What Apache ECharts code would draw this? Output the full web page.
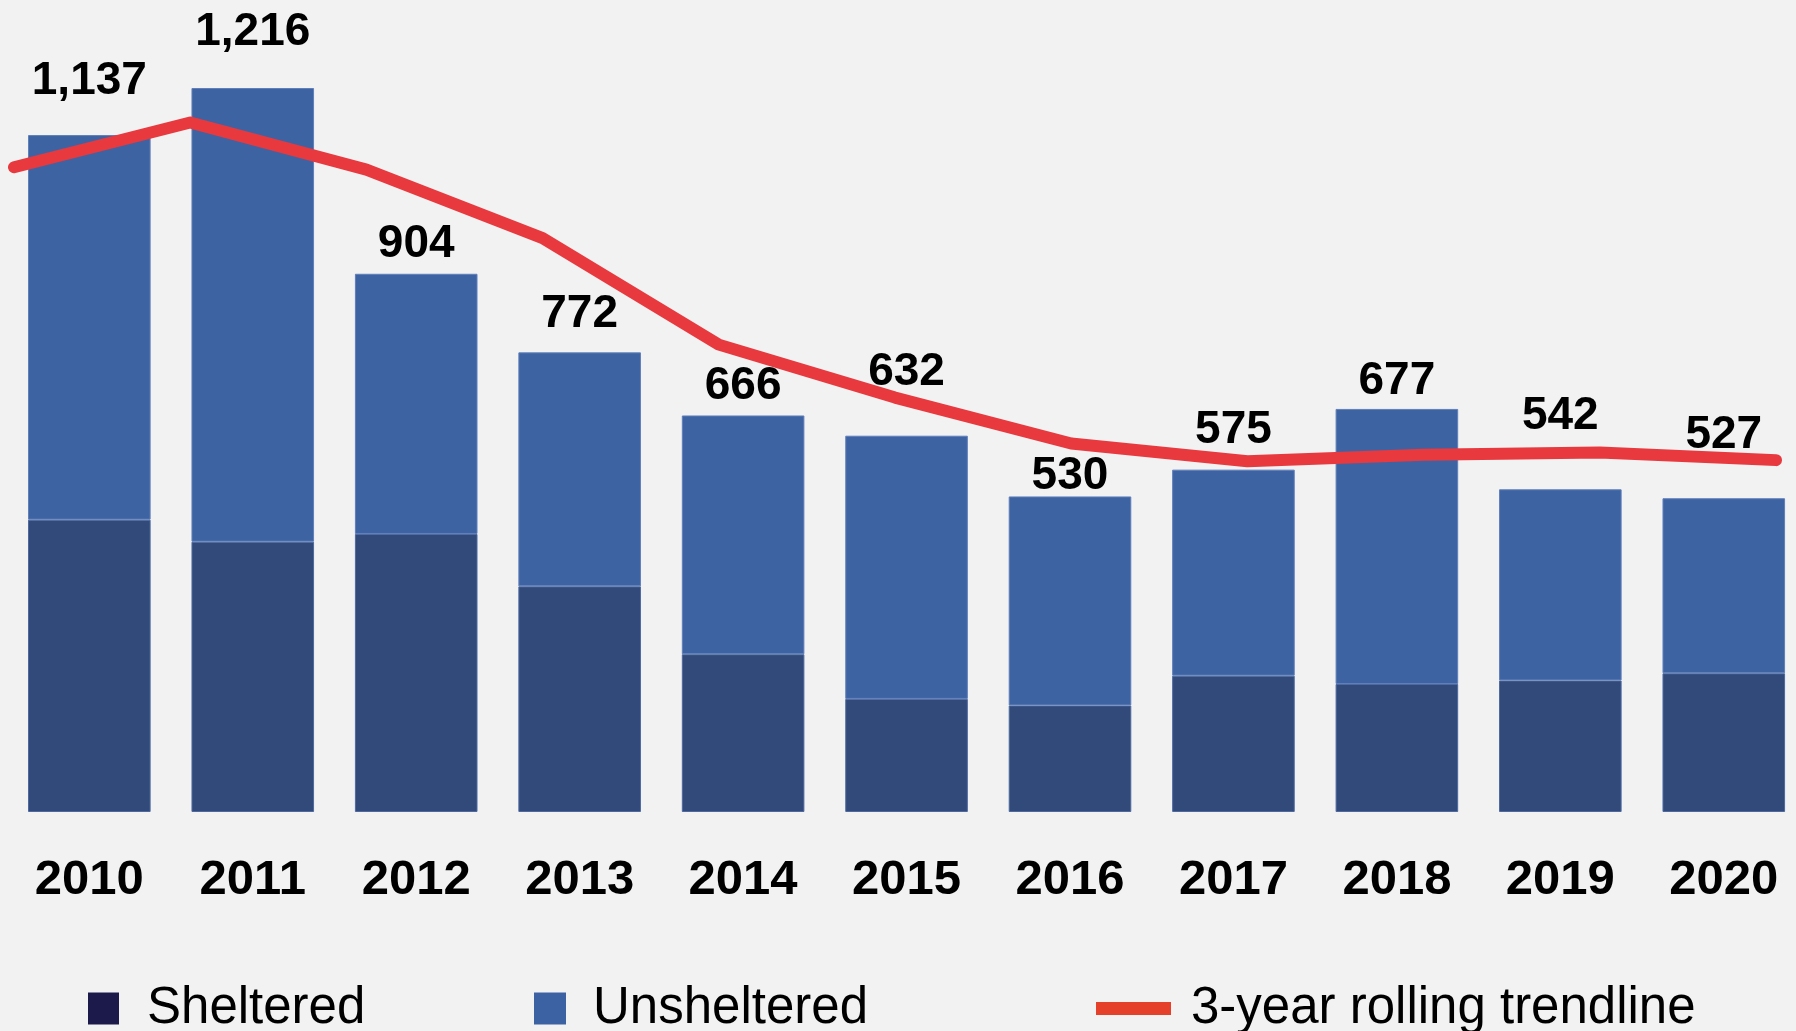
<!DOCTYPE html>
<html>
<head>
<meta charset="utf-8">
<title>Homeless count 2010-2020</title>
<script src="https://cdn.jsdelivr.net/npm/echarts@6.0.0/dist/echarts.min.js"></script>
<style>
  html, body { margin: 0; padding: 0; background: #f2f2f2; }
  #main { width: 1796px; height: 1031px; }
</style>
</head>
<body>
<div id="main"></div>
<script>
// values
var years = ['2010', '2011', '2012', '2013', '2014', '2015', '2016', '2017', '2018', '2019', '2020'];
var totals = [1137, 1216, 904, 772, 666, 632, 530, 575, 677, 542, 527];
var sheltered = [491, 454, 467, 379, 265, 190, 179, 229, 215, 221, 233];
var unsheltered = [646, 762, 437, 393, 401, 442, 351, 346, 462, 321, 294];
var trend = [1083, 1158, 1079, 964, 785, 696, 619, 589, 600, 604, 591];

// how far each total label sits above its bar (px)
var labelLift = [32, 34, 7, 16, 7, 41, -2, 17, 6, 51, 41];

var dom = document.getElementById('main');
var myChart = echarts.init(dom);

var topData = unsheltered.map(function (v, i) {
    return { value: v, label: { offset: [0, -labelLift[i]] } };
});

var legendText = {
    fontFamily: 'Liberation Sans',
    fontSize: 51,
    lineHeight: 50,
    color: '#000'
};

var option = {
    backgroundColor: '#f2f2f2',
    animation: false,
    grid: [
        { left: 7.6, right: -9.5, top: 38, bottom: 219, outerBoundsMode: 'none' },
        { left: 14, right: 20, top: 38, bottom: 219, outerBoundsMode: 'none' }
    ],
    xAxis: [{
        type: 'category',
        gridIndex: 0,
        data: years,
        axisLine: { show: false },
        axisTick: { show: false },
        axisLabel: {
            margin: 44,
            fontFamily: 'Liberation Sans',
            fontWeight: 'bold',
            fontSize: 49,
            lineHeight: 48,
            color: '#000'
        }
    }, {
        type: 'category',
        gridIndex: 1,
        data: years,
        boundaryGap: false,
        show: false
    }],
    yAxis: [
        { type: 'value', gridIndex: 0, min: 0, max: 1300, show: false },
        { type: 'value', gridIndex: 1, min: 0, max: 1300, show: false }
    ],
    legend: [{
        data: [{ name: 'Sheltered', itemStyle: { color: '#1b1a4b', borderWidth: 0 } }],
        left: 88, top: 983, padding: 0,
        itemWidth: 31, itemHeight: 32, icon: 'rect',
        selectedMode: false,
        textStyle: Object.assign({ padding: [0, 0, 0, 23] }, legendText)
    }, {
        data: [{ name: 'Unsheltered', itemStyle: { color: '#3d62a3', borderWidth: 0 } }],
        left: 534, top: 983, padding: 0,
        itemWidth: 32, itemHeight: 32, icon: 'rect',
        selectedMode: false,
        textStyle: Object.assign({ padding: [0, 0, 0, 22] }, legendText)
    }, {
        data: [{ name: '3-year rolling trendline', itemStyle: { color: '#e5402a', borderWidth: 0 }, lineStyle: { color: '#e5402a' } }],
        left: 1096, top: 983, padding: 0,
        itemWidth: 75, itemHeight: 13, icon: 'rect',
        selectedMode: false,
        textStyle: Object.assign({ padding: [0, 0, 0, 15] }, legendText)
    }],
    series: [{
        name: 'Sheltered',
        type: 'bar',
        stack: 'total',
        xAxisIndex: 0, yAxisIndex: 0,
        barWidth: '75%',
        itemStyle: { color: '#314a7a', borderColor: '#4d69a0', borderWidth: 1 },
        data: sheltered
    }, {
        name: 'Unsheltered',
        type: 'bar',
        stack: 'total',
        xAxisIndex: 0, yAxisIndex: 0,
        barWidth: '75%',
        itemStyle: { color: '#3e63a3', borderColor: '#5f7fbb', borderWidth: 1 },
        label: {
            show: true,
            position: 'top',
            distance: 0,
            fontFamily: 'Liberation Sans',
            fontWeight: 'bold',
            fontSize: 46,
            lineHeight: 44,
            color: '#000',
            formatter: function (p) {
                return totals[p.dataIndex].toLocaleString('en-US');
            }
        },
        data: topData
    }, {
        name: '3-year rolling trendline',
        type: 'line',
        xAxisIndex: 1, yAxisIndex: 1,
        z: 5,
        showSymbol: false,
        symbol: 'none',
        lineStyle: { color: '#e8393f', width: 12, cap: 'round', join: 'round' },
        itemStyle: { color: '#e8393f' },
        data: trend
    }]
};

if (option && typeof option === 'object') {
    myChart.setOption(option, true);
}
</script>
</body>
</html>
